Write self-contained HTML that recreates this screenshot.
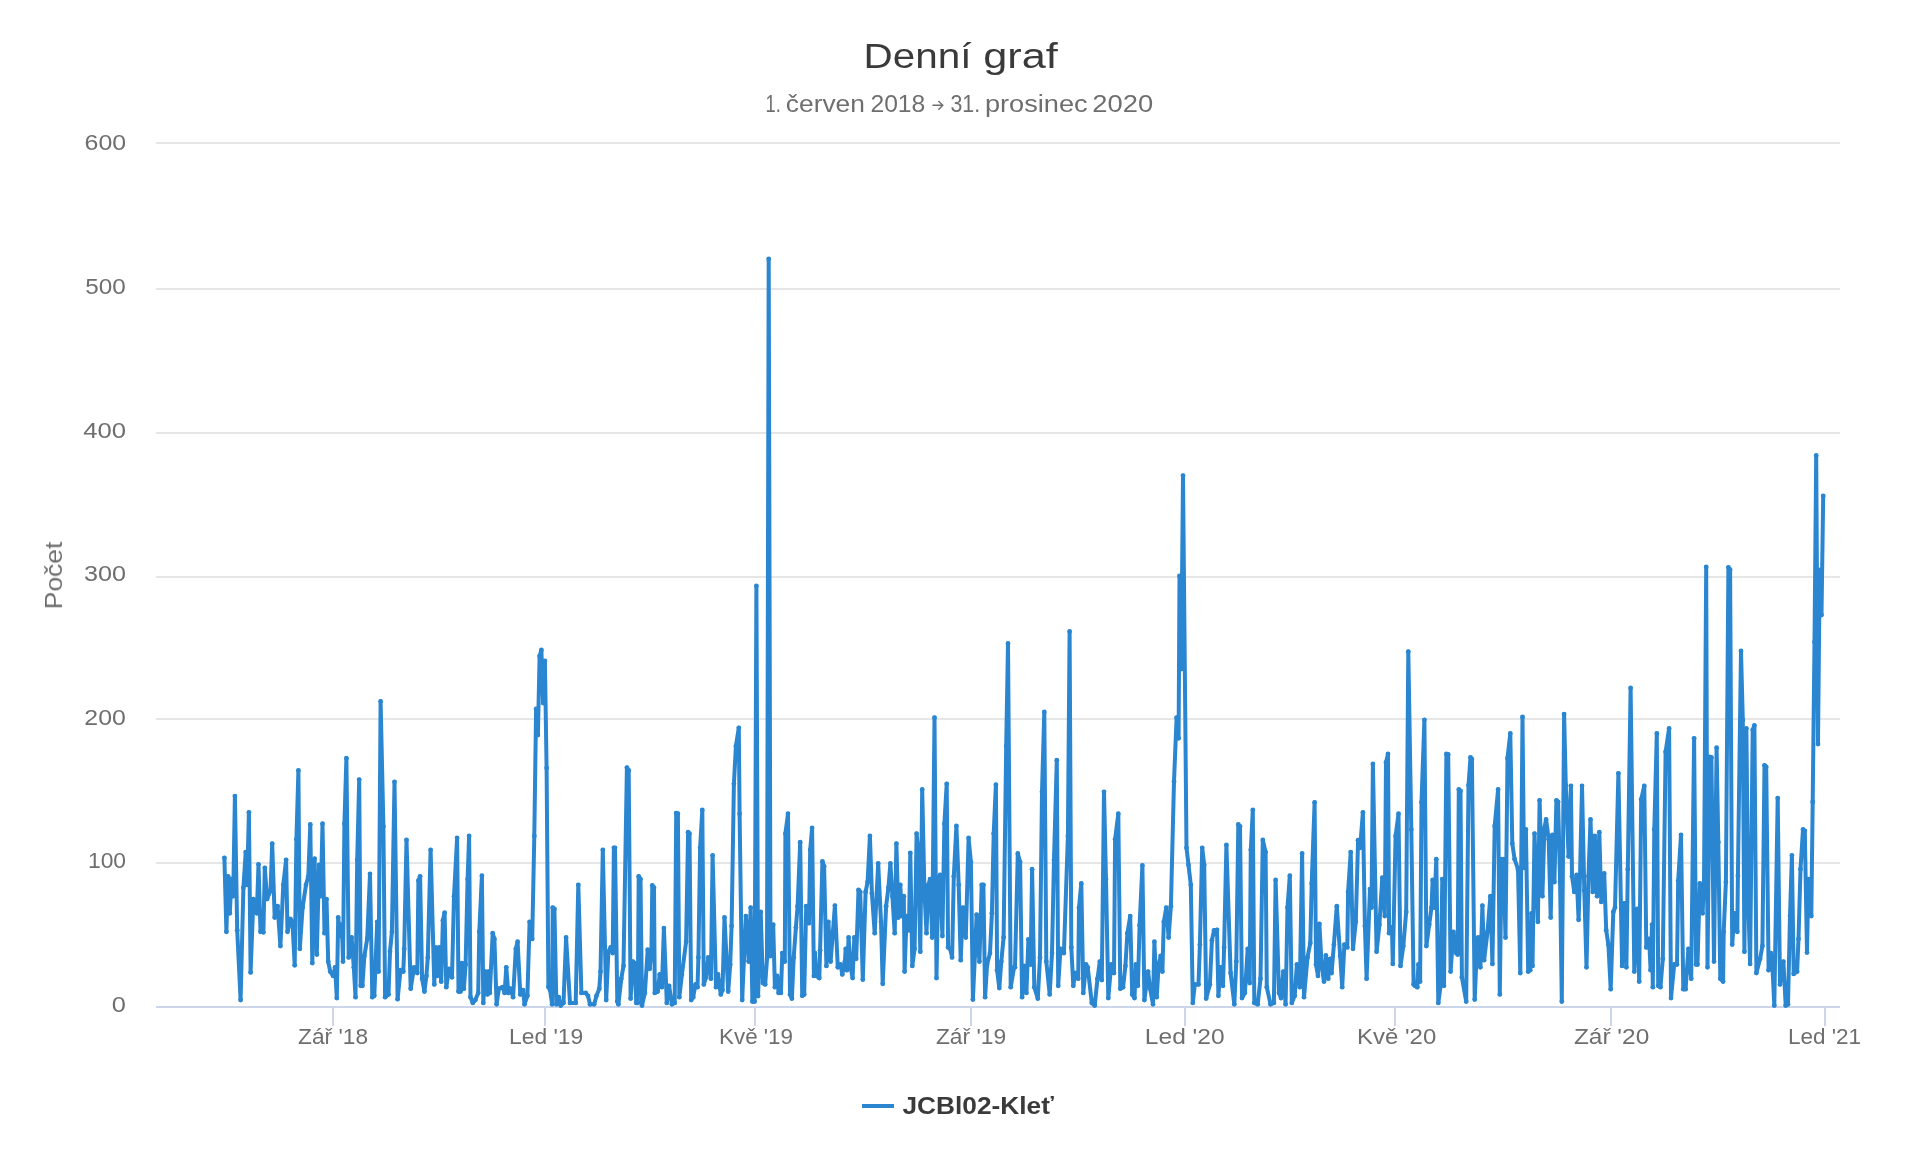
<!DOCTYPE html>
<html><head><meta charset="utf-8"><title>Denní graf</title>
<style>
html,body{margin:0;padding:0;background:#fff;}
body{width:1920px;height:1160px;overflow:hidden;font-family:"Liberation Sans",sans-serif;}
svg{display:block;font-family:"Liberation Sans",sans-serif;}
</style></head><body>
<svg width="1920" height="1160" viewBox="0 0 1920 1160">
<rect width="1920" height="1160" fill="#ffffff"/>
<path d="M156 143H1840" stroke="#e6e6e6" stroke-width="2"/><path d="M156 289H1840" stroke="#e6e6e6" stroke-width="2"/><path d="M156 433H1840" stroke="#e6e6e6" stroke-width="2"/><path d="M156 577H1840" stroke="#e6e6e6" stroke-width="2"/><path d="M156 719H1840" stroke="#e6e6e6" stroke-width="2"/><path d="M156 863H1840" stroke="#e6e6e6" stroke-width="2"/>
<path d="M156 1007H1840" stroke="#ccd6eb" stroke-width="2"/>
<path d="M333 1007V1026" stroke="#ccd6eb" stroke-width="2"/><path d="M545 1007V1026" stroke="#ccd6eb" stroke-width="2"/><path d="M755 1007V1026" stroke="#ccd6eb" stroke-width="2"/><path d="M971 1007V1026" stroke="#ccd6eb" stroke-width="2"/><path d="M1185 1007V1026" stroke="#ccd6eb" stroke-width="2"/><path d="M1395 1007V1026" stroke="#ccd6eb" stroke-width="2"/><path d="M1611 1007V1026" stroke="#ccd6eb" stroke-width="2"/><path d="M1825 1007V1026" stroke="#ccd6eb" stroke-width="2"/>
<g opacity="0.999">
<text x="863.50" y="67.95" font-size="35.5" font-weight="normal" fill="#3a3a3a" textLength="107.89" lengthAdjust="spacingAndGlyphs">Denní</text>
<text x="983.27" y="67.95" font-size="35.5" font-weight="normal" fill="#3a3a3a" textLength="74.59" lengthAdjust="spacingAndGlyphs">graf</text>
<text x="765.51" y="111.9" font-size="23.5" font-weight="normal" fill="#6e6e6e" textLength="15.27" lengthAdjust="spacingAndGlyphs">1.</text>
<text x="785.86" y="111.9" font-size="23.5" font-weight="normal" fill="#6e6e6e" textLength="79.08" lengthAdjust="spacingAndGlyphs">červen</text>
<text x="870.43" y="111.9" font-size="23.5" font-weight="normal" fill="#6e6e6e" textLength="54.86" lengthAdjust="spacingAndGlyphs">2018</text>
<text x="950.44" y="111.9" font-size="23.5" font-weight="normal" fill="#6e6e6e" textLength="29.66" lengthAdjust="spacingAndGlyphs">31.</text>
<text x="984.91" y="111.9" font-size="23.5" font-weight="normal" fill="#6e6e6e" textLength="102.79" lengthAdjust="spacingAndGlyphs">prosinec</text>
<text x="1092.29" y="111.9" font-size="23.5" font-weight="normal" fill="#6e6e6e" textLength="60.80" lengthAdjust="spacingAndGlyphs">2020</text>
<text x="84.58" y="150.3" font-size="22.6" font-weight="normal" fill="#6e6e6e" textLength="41.53" lengthAdjust="spacingAndGlyphs">600</text>
<text x="85.32" y="294.0" font-size="22.6" font-weight="normal" fill="#6e6e6e" textLength="40.50" lengthAdjust="spacingAndGlyphs">500</text>
<text x="83.24" y="437.8" font-size="22.6" font-weight="normal" fill="#6e6e6e" textLength="42.84" lengthAdjust="spacingAndGlyphs">400</text>
<text x="84.04" y="581.4" font-size="22.6" font-weight="normal" fill="#6e6e6e" textLength="42.03" lengthAdjust="spacingAndGlyphs">300</text>
<text x="84.33" y="724.8" font-size="22.6" font-weight="normal" fill="#6e6e6e" textLength="41.53" lengthAdjust="spacingAndGlyphs">200</text>
<text x="87.94" y="868.4" font-size="22.6" font-weight="normal" fill="#6e6e6e" textLength="38.11" lengthAdjust="spacingAndGlyphs">100</text>
<text x="111.84" y="1012.1" font-size="22.6" font-weight="normal" fill="#6e6e6e" textLength="14.14" lengthAdjust="spacingAndGlyphs">0</text>
<text x="298.13" y="1043.65" font-size="22" font-weight="normal" fill="#6e6e6e" textLength="69.90" lengthAdjust="spacingAndGlyphs">Zář '18</text>
<text x="508.98" y="1043.65" font-size="22" font-weight="normal" fill="#6e6e6e" textLength="74.25" lengthAdjust="spacingAndGlyphs">Led '19</text>
<text x="718.99" y="1043.65" font-size="22" font-weight="normal" fill="#6e6e6e" textLength="74.06" lengthAdjust="spacingAndGlyphs">Kvě '19</text>
<text x="935.91" y="1043.65" font-size="22" font-weight="normal" fill="#6e6e6e" textLength="70.27" lengthAdjust="spacingAndGlyphs">Zář '19</text>
<text x="1144.86" y="1043.65" font-size="22" font-weight="normal" fill="#6e6e6e" textLength="79.73" lengthAdjust="spacingAndGlyphs">Led '20</text>
<text x="1357.04" y="1043.65" font-size="22" font-weight="normal" fill="#6e6e6e" textLength="79.24" lengthAdjust="spacingAndGlyphs">Kvě '20</text>
<text x="1573.90" y="1043.65" font-size="22" font-weight="normal" fill="#6e6e6e" textLength="75.35" lengthAdjust="spacingAndGlyphs">Zář '20</text>
<text x="1787.96" y="1043.65" font-size="22" font-weight="normal" fill="#6e6e6e" textLength="73.18" lengthAdjust="spacingAndGlyphs">Led '21</text>
<text x="902.53" y="1113.6" font-size="23.2" font-weight="bold" fill="#3a3a3a" textLength="151.27" lengthAdjust="spacingAndGlyphs">JCBl02-Kleť</text>
<text transform="translate(62,609.30) rotate(-90)" font-size="23.3" fill="#6e6e6e" textLength="67.68" lengthAdjust="spacingAndGlyphs">Počet</text>
</g>
<path d="M932.5 105.3H942.6M938.4 100.9L942.8 105.3L938.4 109.7" fill="none" stroke="#6e6e6e" stroke-width="1.4"/>
<g fill="#2a86d0"><circle cx="224.4" cy="857.8" r="2.4"/><circle cx="226.4" cy="931.8" r="2.4"/><circle cx="228.1" cy="876.3" r="2.4"/><circle cx="229.8" cy="913.3" r="2.4"/><circle cx="231.5" cy="879.1" r="2.4"/><circle cx="233.2" cy="896.2" r="2.4"/><circle cx="234.9" cy="796.1" r="2.4"/><circle cx="237.2" cy="930.3" r="2.4"/><circle cx="240.6" cy="1000.0" r="2.4"/><circle cx="243.4" cy="887.7" r="2.4"/><circle cx="245.7" cy="852.1" r="2.4"/><circle cx="247.1" cy="884.8" r="2.4"/><circle cx="248.9" cy="812.3" r="2.4"/><circle cx="250.6" cy="972.4" r="2.4"/><circle cx="253.4" cy="899.1" r="2.4"/><circle cx="256.8" cy="913.3" r="2.4"/><circle cx="258.5" cy="864.3" r="2.4"/><circle cx="260.5" cy="931.8" r="2.4"/><circle cx="263.4" cy="932.3" r="2.4"/><circle cx="264.8" cy="867.8" r="2.4"/><circle cx="267.1" cy="899.1" r="2.4"/><circle cx="270.5" cy="890.5" r="2.4"/><circle cx="272.2" cy="843.6" r="2.4"/><circle cx="274.7" cy="917.5" r="2.4"/><circle cx="277.6" cy="906.2" r="2.4"/><circle cx="280.4" cy="946.0" r="2.4"/><circle cx="283.3" cy="884.8" r="2.4"/><circle cx="286.1" cy="859.8" r="2.4"/><circle cx="287.5" cy="931.8" r="2.4"/><circle cx="290.4" cy="919.0" r="2.4"/><circle cx="292.4" cy="921.8" r="2.4"/><circle cx="294.7" cy="965.3" r="2.4"/><circle cx="296.4" cy="839.3" r="2.4"/><circle cx="298.4" cy="770.5" r="2.4"/><circle cx="299.8" cy="948.8" r="2.4"/><circle cx="302.6" cy="907.6" r="2.4"/><circle cx="306.0" cy="884.8" r="2.4"/><circle cx="308.3" cy="876.3" r="2.4"/><circle cx="310.3" cy="824.5" r="2.4"/><circle cx="312.3" cy="963.1" r="2.4"/><circle cx="314.6" cy="858.7" r="2.4"/><circle cx="316.8" cy="954.5" r="2.4"/><circle cx="319.1" cy="864.9" r="2.4"/><circle cx="320.8" cy="896.2" r="2.4"/><circle cx="322.5" cy="823.7" r="2.4"/><circle cx="324.5" cy="933.2" r="2.4"/><circle cx="326.5" cy="899.1" r="2.4"/><circle cx="328.2" cy="961.6" r="2.4"/><circle cx="330.2" cy="971.6" r="2.4"/><circle cx="333.1" cy="975.9" r="2.4"/><circle cx="335.1" cy="967.3" r="2.4"/><circle cx="336.8" cy="998.1" r="2.4"/><circle cx="338.2" cy="917.5" r="2.4"/><circle cx="340.2" cy="936.0" r="2.4"/><circle cx="341.9" cy="924.7" r="2.4"/><circle cx="343.0" cy="961.6" r="2.4"/><circle cx="344.4" cy="823.7" r="2.4"/><circle cx="346.4" cy="758.2" r="2.4"/><circle cx="348.7" cy="957.4" r="2.4"/><circle cx="351.6" cy="937.5" r="2.4"/><circle cx="353.8" cy="967.3" r="2.4"/><circle cx="355.5" cy="997.2" r="2.4"/><circle cx="357.2" cy="859.8" r="2.4"/><circle cx="359.2" cy="779.6" r="2.4"/><circle cx="360.7" cy="985.8" r="2.4"/><circle cx="362.4" cy="985.8" r="2.4"/><circle cx="364.4" cy="955.9" r="2.4"/><circle cx="367.2" cy="938.9" r="2.4"/><circle cx="370.0" cy="874.0" r="2.4"/><circle cx="372.3" cy="997.2" r="2.4"/><circle cx="374.3" cy="995.8" r="2.4"/><circle cx="377.2" cy="921.8" r="2.4"/><circle cx="378.6" cy="971.6" r="2.4"/><circle cx="380.6" cy="701.3" r="2.4"/><circle cx="383.4" cy="826.5" r="2.4"/><circle cx="385.1" cy="997.2" r="2.4"/><circle cx="388.5" cy="994.4" r="2.4"/><circle cx="390.0" cy="951.7" r="2.4"/><circle cx="391.9" cy="931.8" r="2.4"/><circle cx="394.5" cy="781.8" r="2.4"/><circle cx="397.6" cy="999.2" r="2.4"/><circle cx="400.5" cy="970.2" r="2.4"/><circle cx="403.3" cy="971.6" r="2.4"/><circle cx="404.2" cy="948.8" r="2.4"/><circle cx="406.5" cy="839.9" r="2.4"/><circle cx="410.7" cy="988.7" r="2.4"/><circle cx="414.1" cy="967.3" r="2.4"/><circle cx="415.0" cy="970.2" r="2.4"/><circle cx="417.3" cy="973.0" r="2.4"/><circle cx="418.4" cy="880.6" r="2.4"/><circle cx="420.1" cy="876.3" r="2.4"/><circle cx="422.1" cy="978.7" r="2.4"/><circle cx="424.4" cy="991.5" r="2.4"/><circle cx="426.4" cy="975.9" r="2.4"/><circle cx="427.8" cy="957.4" r="2.4"/><circle cx="430.6" cy="849.8" r="2.4"/><circle cx="434.3" cy="984.4" r="2.4"/><circle cx="435.5" cy="947.4" r="2.4"/><circle cx="437.2" cy="975.9" r="2.4"/><circle cx="439.2" cy="947.4" r="2.4"/><circle cx="441.2" cy="981.6" r="2.4"/><circle cx="442.9" cy="920.4" r="2.4"/><circle cx="444.6" cy="912.7" r="2.4"/><circle cx="446.3" cy="987.2" r="2.4"/><circle cx="449.1" cy="968.8" r="2.4"/><circle cx="452.0" cy="977.3" r="2.4"/><circle cx="454.0" cy="896.2" r="2.4"/><circle cx="457.1" cy="837.9" r="2.4"/><circle cx="458.5" cy="991.5" r="2.4"/><circle cx="460.5" cy="991.5" r="2.4"/><circle cx="461.9" cy="963.1" r="2.4"/><circle cx="463.9" cy="988.7" r="2.4"/><circle cx="465.6" cy="964.5" r="2.4"/><circle cx="467.6" cy="879.1" r="2.4"/><circle cx="469.1" cy="835.9" r="2.4"/><circle cx="470.5" cy="997.2" r="2.4"/><circle cx="472.8" cy="1002.9" r="2.4"/><circle cx="475.3" cy="1000.0" r="2.4"/><circle cx="478.2" cy="992.9" r="2.4"/><circle cx="479.3" cy="931.8" r="2.4"/><circle cx="481.9" cy="875.7" r="2.4"/><circle cx="483.3" cy="1002.9" r="2.4"/><circle cx="485.3" cy="971.6" r="2.4"/><circle cx="487.5" cy="994.4" r="2.4"/><circle cx="488.4" cy="971.6" r="2.4"/><circle cx="489.8" cy="992.9" r="2.4"/><circle cx="492.7" cy="933.2" r="2.4"/><circle cx="494.4" cy="938.9" r="2.4"/><circle cx="496.6" cy="1004.3" r="2.4"/><circle cx="498.9" cy="988.7" r="2.4"/><circle cx="502.6" cy="987.2" r="2.4"/><circle cx="504.6" cy="992.9" r="2.4"/><circle cx="506.3" cy="967.3" r="2.4"/><circle cx="508.3" cy="992.9" r="2.4"/><circle cx="510.3" cy="988.7" r="2.4"/><circle cx="513.1" cy="997.2" r="2.4"/><circle cx="515.8" cy="948.8" r="2.4"/><circle cx="517.6" cy="941.7" r="2.4"/><circle cx="520.3" cy="994.4" r="2.4"/><circle cx="523.1" cy="990.1" r="2.4"/><circle cx="524.5" cy="1004.3" r="2.4"/><circle cx="527.4" cy="995.8" r="2.4"/><circle cx="529.6" cy="921.8" r="2.4"/><circle cx="532.2" cy="938.9" r="2.4"/><circle cx="534.3" cy="836" r="2.4"/><circle cx="536.1" cy="709" r="2.4"/><circle cx="537.9" cy="735" r="2.4"/><circle cx="539.6" cy="656" r="2.4"/><circle cx="541.4" cy="650" r="2.4"/><circle cx="543.1" cy="703" r="2.4"/><circle cx="544.9" cy="661" r="2.4"/><circle cx="546.6" cy="768" r="2.4"/><circle cx="548.4" cy="987" r="2.4"/><circle cx="550.1" cy="990.1" r="2.4"/><circle cx="552.1" cy="1004.3" r="2.4"/><circle cx="552.7" cy="907.6" r="2.4"/><circle cx="554.4" cy="909.0" r="2.4"/><circle cx="556.4" cy="1004.3" r="2.4"/><circle cx="558.7" cy="997.2" r="2.4"/><circle cx="560.7" cy="1005.5" r="2.4"/><circle cx="563.5" cy="1002.9" r="2.4"/><circle cx="566.1" cy="937.5" r="2.4"/><circle cx="570.0" cy="1002.9" r="2.4"/><circle cx="575.7" cy="1002.9" r="2.4"/><circle cx="578.3" cy="884.8" r="2.4"/><circle cx="581.4" cy="992.9" r="2.4"/><circle cx="585.7" cy="992.9" r="2.4"/><circle cx="588.0" cy="995.8" r="2.4"/><circle cx="590.0" cy="1004.3" r="2.4"/><circle cx="594.2" cy="1004.3" r="2.4"/><circle cx="596.5" cy="995.8" r="2.4"/><circle cx="599.3" cy="988.7" r="2.4"/><circle cx="600.5" cy="971.6" r="2.4"/><circle cx="602.8" cy="849.8" r="2.4"/><circle cx="606.2" cy="1000.0" r="2.4"/><circle cx="608.4" cy="951.7" r="2.4"/><circle cx="610.7" cy="947.4" r="2.4"/><circle cx="612.7" cy="953.1" r="2.4"/><circle cx="613.9" cy="847.8" r="2.4"/><circle cx="615.0" cy="847.8" r="2.4"/><circle cx="617.3" cy="1001.5" r="2.4"/><circle cx="618.4" cy="1004.3" r="2.4"/><circle cx="621.3" cy="978.7" r="2.4"/><circle cx="623.5" cy="965.9" r="2.4"/><circle cx="626.9" cy="767.6" r="2.4"/><circle cx="628.7" cy="770.5" r="2.4"/><circle cx="630.6" cy="998.6" r="2.4"/><circle cx="632.9" cy="961.6" r="2.4"/><circle cx="634.6" cy="963.1" r="2.4"/><circle cx="636.3" cy="1002.9" r="2.4"/><circle cx="637.8" cy="1002.9" r="2.4"/><circle cx="638.7" cy="876.3" r="2.4"/><circle cx="640.5" cy="879.1" r="2.4"/><circle cx="642.0" cy="1005.5" r="2.4"/><circle cx="644.9" cy="992.9" r="2.4"/><circle cx="647.7" cy="949.7" r="2.4"/><circle cx="649.7" cy="968.8" r="2.4"/><circle cx="651.4" cy="951.7" r="2.4"/><circle cx="652.3" cy="885.4" r="2.4"/><circle cx="654.0" cy="887.7" r="2.4"/><circle cx="654.8" cy="992.9" r="2.4"/><circle cx="657.7" cy="991.5" r="2.4"/><circle cx="659.7" cy="974.4" r="2.4"/><circle cx="661.9" cy="987.2" r="2.4"/><circle cx="663.9" cy="928.1" r="2.4"/><circle cx="666.8" cy="1002.9" r="2.4"/><circle cx="669.1" cy="985.8" r="2.4"/><circle cx="671.9" cy="1004.3" r="2.4"/><circle cx="674.7" cy="1002.9" r="2.4"/><circle cx="676.2" cy="813.1" r="2.4"/><circle cx="677.9" cy="813.7" r="2.4"/><circle cx="679.3" cy="997.2" r="2.4"/><circle cx="681.9" cy="974.4" r="2.4"/><circle cx="686.1" cy="941.7" r="2.4"/><circle cx="688.1" cy="832.2" r="2.4"/><circle cx="689.5" cy="833.6" r="2.4"/><circle cx="691.2" cy="1000.0" r="2.4"/><circle cx="693.2" cy="997.2" r="2.4"/><circle cx="695.5" cy="984.4" r="2.4"/><circle cx="697.5" cy="987.2" r="2.4"/><circle cx="698.4" cy="957.4" r="2.4"/><circle cx="700.1" cy="847.8" r="2.4"/><circle cx="702.3" cy="810.0" r="2.4"/><circle cx="703.8" cy="984.4" r="2.4"/><circle cx="706.0" cy="977.3" r="2.4"/><circle cx="708.3" cy="957.4" r="2.4"/><circle cx="710.9" cy="978.7" r="2.4"/><circle cx="712.6" cy="855.5" r="2.4"/><circle cx="716.0" cy="987.2" r="2.4"/><circle cx="718.0" cy="974.4" r="2.4"/><circle cx="720.8" cy="994.4" r="2.4"/><circle cx="722.5" cy="990.1" r="2.4"/><circle cx="724.5" cy="917.5" r="2.4"/><circle cx="728.2" cy="991.5" r="2.4"/><circle cx="730.2" cy="964.5" r="2.4"/><circle cx="731.6" cy="926.1" r="2.4"/><circle cx="733.9" cy="783.8" r="2.4"/><circle cx="735.9" cy="746.0" r="2.4"/><circle cx="738.8" cy="727.8" r="2.4"/><circle cx="739.6" cy="813.7" r="2.4"/><circle cx="742.2" cy="1000.0" r="2.4"/><circle cx="743.9" cy="960.2" r="2.4"/><circle cx="745.9" cy="916.1" r="2.4"/><circle cx="748.7" cy="961.6" r="2.4"/><circle cx="750.7" cy="907.6" r="2.4"/><circle cx="752.4" cy="1001.5" r="2.4"/><circle cx="754.6" cy="1001.5" r="2.4"/><circle cx="756.4" cy="586" r="2.4"/><circle cx="758.1" cy="996" r="2.4"/><circle cx="760.7" cy="911.9" r="2.4"/><circle cx="762.9" cy="983.0" r="2.4"/><circle cx="765.2" cy="984.4" r="2.4"/><circle cx="767.0" cy="958.8" r="2.4"/><circle cx="768.7" cy="259" r="2.4"/><circle cx="770.5" cy="956" r="2.4"/><circle cx="773.2" cy="924.7" r="2.4"/><circle cx="774.9" cy="987.2" r="2.4"/><circle cx="777.2" cy="975.9" r="2.4"/><circle cx="778.6" cy="992.9" r="2.4"/><circle cx="780.9" cy="992.9" r="2.4"/><circle cx="782.3" cy="953.1" r="2.4"/><circle cx="784.8" cy="961.6" r="2.4"/><circle cx="785.4" cy="833.6" r="2.4"/><circle cx="788.0" cy="813.7" r="2.4"/><circle cx="790.0" cy="994.4" r="2.4"/><circle cx="791.9" cy="998.6" r="2.4"/><circle cx="793.7" cy="957.4" r="2.4"/><circle cx="795.9" cy="927.5" r="2.4"/><circle cx="797.6" cy="906.2" r="2.4"/><circle cx="800.2" cy="842.2" r="2.4"/><circle cx="802.2" cy="995.8" r="2.4"/><circle cx="804.2" cy="994.4" r="2.4"/><circle cx="806.2" cy="906.2" r="2.4"/><circle cx="809.0" cy="923.2" r="2.4"/><circle cx="810.2" cy="849.8" r="2.4"/><circle cx="812.1" cy="827.9" r="2.4"/><circle cx="813.9" cy="975.9" r="2.4"/><circle cx="815.0" cy="953.1" r="2.4"/><circle cx="816.4" cy="975.9" r="2.4"/><circle cx="819.3" cy="978.1" r="2.4"/><circle cx="820.1" cy="950.3" r="2.4"/><circle cx="822.4" cy="861.5" r="2.4"/><circle cx="824.1" cy="866.3" r="2.4"/><circle cx="826.4" cy="965.9" r="2.4"/><circle cx="828.4" cy="921.8" r="2.4"/><circle cx="830.6" cy="961.6" r="2.4"/><circle cx="832.6" cy="936.0" r="2.4"/><circle cx="834.9" cy="905.6" r="2.4"/><circle cx="837.8" cy="967.3" r="2.4"/><circle cx="840.6" cy="964.5" r="2.4"/><circle cx="842.3" cy="974.4" r="2.4"/><circle cx="844.9" cy="961.6" r="2.4"/><circle cx="845.7" cy="948.8" r="2.4"/><circle cx="846.9" cy="970.2" r="2.4"/><circle cx="848.6" cy="937.5" r="2.4"/><circle cx="850.6" cy="967.3" r="2.4"/><circle cx="852.6" cy="978.1" r="2.4"/><circle cx="854.3" cy="937.5" r="2.4"/><circle cx="856.2" cy="958.8" r="2.4"/><circle cx="858.5" cy="889.9" r="2.4"/><circle cx="860.2" cy="891.9" r="2.4"/><circle cx="862.8" cy="979.6" r="2.4"/><circle cx="865.6" cy="891.9" r="2.4"/><circle cx="867.6" cy="882.0" r="2.4"/><circle cx="869.9" cy="835.9" r="2.4"/><circle cx="871.9" cy="893.4" r="2.4"/><circle cx="874.7" cy="933.2" r="2.4"/><circle cx="878.2" cy="863.5" r="2.4"/><circle cx="881.0" cy="921.8" r="2.4"/><circle cx="882.7" cy="983.8" r="2.4"/><circle cx="886.1" cy="906.2" r="2.4"/><circle cx="888.4" cy="887.7" r="2.4"/><circle cx="890.4" cy="863.5" r="2.4"/><circle cx="892.4" cy="896.2" r="2.4"/><circle cx="894.7" cy="933.2" r="2.4"/><circle cx="896.4" cy="843.6" r="2.4"/><circle cx="898.4" cy="917.5" r="2.4"/><circle cx="900.3" cy="884.8" r="2.4"/><circle cx="901.8" cy="916.1" r="2.4"/><circle cx="903.8" cy="896.2" r="2.4"/><circle cx="904.6" cy="971.6" r="2.4"/><circle cx="906.6" cy="916.1" r="2.4"/><circle cx="908.9" cy="930.3" r="2.4"/><circle cx="910.3" cy="853.0" r="2.4"/><circle cx="912.3" cy="965.9" r="2.4"/><circle cx="914.6" cy="948.8" r="2.4"/><circle cx="916.6" cy="833.6" r="2.4"/><circle cx="918.3" cy="850.7" r="2.4"/><circle cx="920.3" cy="951.7" r="2.4"/><circle cx="922.2" cy="789.5" r="2.4"/><circle cx="924.5" cy="893.4" r="2.4"/><circle cx="926.5" cy="933.2" r="2.4"/><circle cx="928.3" cy="884.8" r="2.4"/><circle cx="930.1" cy="879.1" r="2.4"/><circle cx="932.2" cy="937.5" r="2.4"/><circle cx="934.5" cy="717.6" r="2.4"/><circle cx="936.5" cy="978.1" r="2.4"/><circle cx="938.3" cy="879.1" r="2.4"/><circle cx="940.1" cy="874.9" r="2.4"/><circle cx="942.4" cy="936.0" r="2.4"/><circle cx="944.4" cy="823.7" r="2.4"/><circle cx="946.7" cy="783.8" r="2.4"/><circle cx="948.1" cy="947.4" r="2.4"/><circle cx="950.1" cy="948.8" r="2.4"/><circle cx="952.1" cy="957.4" r="2.4"/><circle cx="953.8" cy="876.3" r="2.4"/><circle cx="956.4" cy="825.9" r="2.4"/><circle cx="958.7" cy="884.8" r="2.4"/><circle cx="960.7" cy="960.2" r="2.4"/><circle cx="962.9" cy="907.6" r="2.4"/><circle cx="965.8" cy="937.5" r="2.4"/><circle cx="968.6" cy="837.9" r="2.4"/><circle cx="970.9" cy="862.1" r="2.4"/><circle cx="972.9" cy="999.5" r="2.4"/><circle cx="974.9" cy="955.9" r="2.4"/><circle cx="976.6" cy="914.7" r="2.4"/><circle cx="979.4" cy="961.6" r="2.4"/><circle cx="981.7" cy="884.8" r="2.4"/><circle cx="983.4" cy="884.8" r="2.4"/><circle cx="985.1" cy="997.2" r="2.4"/><circle cx="987.1" cy="964.5" r="2.4"/><circle cx="990.0" cy="953.1" r="2.4"/><circle cx="991.9" cy="913.3" r="2.4"/><circle cx="993.7" cy="833.6" r="2.4"/><circle cx="995.9" cy="784.7" r="2.4"/><circle cx="997.1" cy="970.2" r="2.4"/><circle cx="999.3" cy="988.1" r="2.4"/><circle cx="1001.3" cy="961.6" r="2.4"/><circle cx="1003.6" cy="937.5" r="2.4"/><circle cx="1006.2" cy="746" r="2.4"/><circle cx="1008.0" cy="643.4" r="2.4"/><circle cx="1010.7" cy="987.2" r="2.4"/><circle cx="1014.1" cy="967.3" r="2.4"/><circle cx="1015.0" cy="967.3" r="2.4"/><circle cx="1017.8" cy="853.5" r="2.4"/><circle cx="1020.1" cy="862.1" r="2.4"/><circle cx="1022.1" cy="997.2" r="2.4"/><circle cx="1024.1" cy="965.9" r="2.4"/><circle cx="1026.4" cy="992.9" r="2.4"/><circle cx="1028.4" cy="939.4" r="2.4"/><circle cx="1030.6" cy="964.5" r="2.4"/><circle cx="1032.1" cy="869.2" r="2.4"/><circle cx="1034.3" cy="987.2" r="2.4"/><circle cx="1037.8" cy="998.6" r="2.4"/><circle cx="1040.0" cy="957.4" r="2.4"/><circle cx="1042.0" cy="791.8" r="2.4"/><circle cx="1044.3" cy="711.9" r="2.4"/><circle cx="1046.3" cy="961.6" r="2.4"/><circle cx="1049.7" cy="994.4" r="2.4"/><circle cx="1052.0" cy="953.1" r="2.4"/><circle cx="1054.0" cy="859.8" r="2.4"/><circle cx="1056.8" cy="760.2" r="2.4"/><circle cx="1058.2" cy="985.8" r="2.4"/><circle cx="1060.5" cy="948.8" r="2.4"/><circle cx="1063.9" cy="953.1" r="2.4"/><circle cx="1067.9" cy="835.9" r="2.4"/><circle cx="1069.6" cy="631.5" r="2.4"/><circle cx="1071.3" cy="947.4" r="2.4"/><circle cx="1073.3" cy="985.8" r="2.4"/><circle cx="1075.3" cy="973.0" r="2.4"/><circle cx="1078.2" cy="978.7" r="2.4"/><circle cx="1079.0" cy="907.6" r="2.4"/><circle cx="1081.3" cy="883.4" r="2.4"/><circle cx="1083.3" cy="992.9" r="2.4"/><circle cx="1086.0" cy="964.5" r="2.4"/><circle cx="1087.7" cy="967.3" r="2.4"/><circle cx="1091.8" cy="1002.9" r="2.4"/><circle cx="1094.7" cy="1005.5" r="2.4"/><circle cx="1097.5" cy="978.7" r="2.4"/><circle cx="1099.8" cy="961.6" r="2.4"/><circle cx="1101.8" cy="980.1" r="2.4"/><circle cx="1104.0" cy="791.8" r="2.4"/><circle cx="1106.0" cy="879.1" r="2.4"/><circle cx="1108.3" cy="998.1" r="2.4"/><circle cx="1111.2" cy="964.5" r="2.4"/><circle cx="1114.0" cy="973.0" r="2.4"/><circle cx="1115.1" cy="839.3" r="2.4"/><circle cx="1118.3" cy="813.7" r="2.4"/><circle cx="1120.3" cy="988.7" r="2.4"/><circle cx="1123.1" cy="987.2" r="2.4"/><circle cx="1125.4" cy="965.9" r="2.4"/><circle cx="1127.4" cy="933.2" r="2.4"/><circle cx="1130.2" cy="916.1" r="2.4"/><circle cx="1132.2" cy="994.4" r="2.4"/><circle cx="1134.5" cy="998.1" r="2.4"/><circle cx="1135.9" cy="964.5" r="2.4"/><circle cx="1137.9" cy="985.8" r="2.4"/><circle cx="1139.6" cy="925.2" r="2.4"/><circle cx="1142.4" cy="865.5" r="2.4"/><circle cx="1144.4" cy="1000.0" r="2.4"/><circle cx="1148.1" cy="971.6" r="2.4"/><circle cx="1150.1" cy="988.7" r="2.4"/><circle cx="1153.0" cy="1004.3" r="2.4"/><circle cx="1154.4" cy="941.7" r="2.4"/><circle cx="1156.7" cy="997.2" r="2.4"/><circle cx="1158.7" cy="964.5" r="2.4"/><circle cx="1160.7" cy="955.9" r="2.4"/><circle cx="1162.4" cy="971.6" r="2.4"/><circle cx="1163.8" cy="921.8" r="2.4"/><circle cx="1166.3" cy="907.6" r="2.4"/><circle cx="1168.6" cy="937.5" r="2.4"/><circle cx="1170.9" cy="906.2" r="2.4"/><circle cx="1174.0" cy="781.6" r="2.4"/><circle cx="1176.6" cy="717.6" r="2.4"/><circle cx="1178.6" cy="738.3" r="2.4"/><circle cx="1179.5" cy="576" r="2.4"/><circle cx="1181.2" cy="669" r="2.4"/><circle cx="1183.0" cy="475.6" r="2.4"/><circle cx="1186.5" cy="847.8" r="2.4"/><circle cx="1188.5" cy="864.9" r="2.4"/><circle cx="1190.8" cy="884.8" r="2.4"/><circle cx="1192.8" cy="1002.9" r="2.4"/><circle cx="1194.8" cy="984.4" r="2.4"/><circle cx="1198.5" cy="984.4" r="2.4"/><circle cx="1199.9" cy="944.6" r="2.4"/><circle cx="1202.2" cy="847.8" r="2.4"/><circle cx="1204.2" cy="864.9" r="2.4"/><circle cx="1206.2" cy="998.6" r="2.4"/><circle cx="1209.9" cy="984.4" r="2.4"/><circle cx="1211.9" cy="940.3" r="2.4"/><circle cx="1214.1" cy="930.3" r="2.4"/><circle cx="1215.0" cy="930.3" r="2.4"/><circle cx="1217.0" cy="929.8" r="2.4"/><circle cx="1218.4" cy="995.8" r="2.4"/><circle cx="1220.7" cy="967.3" r="2.4"/><circle cx="1223.0" cy="985.8" r="2.4"/><circle cx="1224.1" cy="947.4" r="2.4"/><circle cx="1226.4" cy="845.0" r="2.4"/><circle cx="1230.6" cy="973.0" r="2.4"/><circle cx="1234.3" cy="1004.3" r="2.4"/><circle cx="1236.3" cy="961.6" r="2.4"/><circle cx="1238.3" cy="824.5" r="2.4"/><circle cx="1240.0" cy="826.5" r="2.4"/><circle cx="1242.0" cy="998.1" r="2.4"/><circle cx="1244.9" cy="992.9" r="2.4"/><circle cx="1247.7" cy="948.8" r="2.4"/><circle cx="1249.7" cy="983.0" r="2.4"/><circle cx="1250.8" cy="849.8" r="2.4"/><circle cx="1252.8" cy="810.0" r="2.4"/><circle cx="1254.3" cy="1002.9" r="2.4"/><circle cx="1257.7" cy="1004.3" r="2.4"/><circle cx="1260.5" cy="978.7" r="2.4"/><circle cx="1262.8" cy="839.9" r="2.4"/><circle cx="1265.6" cy="852.1" r="2.4"/><circle cx="1266.8" cy="987.2" r="2.4"/><circle cx="1270.5" cy="1004.3" r="2.4"/><circle cx="1273.9" cy="1002.9" r="2.4"/><circle cx="1275.6" cy="880.0" r="2.4"/><circle cx="1279.0" cy="992.9" r="2.4"/><circle cx="1281.0" cy="998.1" r="2.4"/><circle cx="1283.3" cy="971.6" r="2.4"/><circle cx="1285.6" cy="1004.3" r="2.4"/><circle cx="1287.5" cy="907.6" r="2.4"/><circle cx="1289.8" cy="875.7" r="2.4"/><circle cx="1291.8" cy="1002.9" r="2.4"/><circle cx="1294.7" cy="995.8" r="2.4"/><circle cx="1296.9" cy="964.5" r="2.4"/><circle cx="1299.8" cy="987.2" r="2.4"/><circle cx="1302.1" cy="853.5" r="2.4"/><circle cx="1304.0" cy="997.2" r="2.4"/><circle cx="1307.5" cy="957.4" r="2.4"/><circle cx="1310.3" cy="943.1" r="2.4"/><circle cx="1311.7" cy="883.4" r="2.4"/><circle cx="1314.6" cy="802.3" r="2.4"/><circle cx="1316.0" cy="964.5" r="2.4"/><circle cx="1318.0" cy="975.9" r="2.4"/><circle cx="1319.4" cy="923.8" r="2.4"/><circle cx="1321.7" cy="965.9" r="2.4"/><circle cx="1324.0" cy="981.6" r="2.4"/><circle cx="1325.9" cy="955.4" r="2.4"/><circle cx="1328.2" cy="978.7" r="2.4"/><circle cx="1330.2" cy="958.8" r="2.4"/><circle cx="1331.6" cy="973.0" r="2.4"/><circle cx="1333.9" cy="944.6" r="2.4"/><circle cx="1336.8" cy="906.2" r="2.4"/><circle cx="1340.2" cy="955.9" r="2.4"/><circle cx="1342.2" cy="987.2" r="2.4"/><circle cx="1344.4" cy="944.6" r="2.4"/><circle cx="1347.3" cy="947.4" r="2.4"/><circle cx="1348.1" cy="891.9" r="2.4"/><circle cx="1350.7" cy="852.1" r="2.4"/><circle cx="1353.0" cy="948.8" r="2.4"/><circle cx="1355.8" cy="921.8" r="2.4"/><circle cx="1358.1" cy="840.2" r="2.4"/><circle cx="1360.1" cy="847.8" r="2.4"/><circle cx="1362.9" cy="812.3" r="2.4"/><circle cx="1364.9" cy="926.1" r="2.4"/><circle cx="1366.6" cy="978.7" r="2.4"/><circle cx="1370.0" cy="889.1" r="2.4"/><circle cx="1371.5" cy="907.6" r="2.4"/><circle cx="1372.9" cy="763.9" r="2.4"/><circle cx="1376.6" cy="951.7" r="2.4"/><circle cx="1379.4" cy="924.7" r="2.4"/><circle cx="1382.3" cy="877.7" r="2.4"/><circle cx="1384.8" cy="916.1" r="2.4"/><circle cx="1386.0" cy="762.5" r="2.4"/><circle cx="1388.0" cy="754.0" r="2.4"/><circle cx="1389.1" cy="933.2" r="2.4"/><circle cx="1391.9" cy="927.5" r="2.4"/><circle cx="1392.8" cy="963.9" r="2.4"/><circle cx="1395.6" cy="835.9" r="2.4"/><circle cx="1398.5" cy="813.7" r="2.4"/><circle cx="1400.5" cy="965.9" r="2.4"/><circle cx="1403.3" cy="946.0" r="2.4"/><circle cx="1406.2" cy="911.9" r="2.4"/><circle cx="1408.3" cy="651.6" r="2.4"/><circle cx="1411.3" cy="829.4" r="2.4"/><circle cx="1413.6" cy="984.4" r="2.4"/><circle cx="1415.0" cy="985.8" r="2.4"/><circle cx="1417.3" cy="987.2" r="2.4"/><circle cx="1418.4" cy="964.5" r="2.4"/><circle cx="1420.1" cy="981.6" r="2.4"/><circle cx="1421.5" cy="802.3" r="2.4"/><circle cx="1424.4" cy="719.8" r="2.4"/><circle cx="1426.4" cy="946.0" r="2.4"/><circle cx="1429.2" cy="924.7" r="2.4"/><circle cx="1431.5" cy="907.6" r="2.4"/><circle cx="1432.6" cy="880.0" r="2.4"/><circle cx="1434.3" cy="907.6" r="2.4"/><circle cx="1436.3" cy="859.2" r="2.4"/><circle cx="1438.3" cy="1002.9" r="2.4"/><circle cx="1440.6" cy="985.8" r="2.4"/><circle cx="1442.3" cy="879.1" r="2.4"/><circle cx="1444.0" cy="985.8" r="2.4"/><circle cx="1446.4" cy="754.0" r="2.4"/><circle cx="1448.2" cy="754.5" r="2.4"/><circle cx="1450.6" cy="971.6" r="2.4"/><circle cx="1453.4" cy="931.8" r="2.4"/><circle cx="1456.2" cy="953.1" r="2.4"/><circle cx="1457.7" cy="954.5" r="2.4"/><circle cx="1458.8" cy="789.5" r="2.4"/><circle cx="1460.5" cy="790.9" r="2.4"/><circle cx="1461.9" cy="977.3" r="2.4"/><circle cx="1466.2" cy="1001.5" r="2.4"/><circle cx="1468.5" cy="785.3" r="2.4"/><circle cx="1470.5" cy="757.4" r="2.4"/><circle cx="1471.9" cy="759.1" r="2.4"/><circle cx="1474.7" cy="999.5" r="2.4"/><circle cx="1476.2" cy="964.5" r="2.4"/><circle cx="1478.2" cy="937.5" r="2.4"/><circle cx="1480.4" cy="967.3" r="2.4"/><circle cx="1482.4" cy="905.6" r="2.4"/><circle cx="1484.1" cy="960.2" r="2.4"/><circle cx="1487.5" cy="931.8" r="2.4"/><circle cx="1490.4" cy="896.2" r="2.4"/><circle cx="1492.4" cy="963.9" r="2.4"/><circle cx="1494.7" cy="825.9" r="2.4"/><circle cx="1498.1" cy="789.5" r="2.4"/><circle cx="1499.8" cy="994.4" r="2.4"/><circle cx="1501.6" cy="859.2" r="2.4"/><circle cx="1503.4" cy="859.2" r="2.4"/><circle cx="1505.5" cy="937.5" r="2.4"/><circle cx="1507.5" cy="758.2" r="2.4"/><circle cx="1510.3" cy="733.5" r="2.4"/><circle cx="1512.3" cy="843.6" r="2.4"/><circle cx="1514.6" cy="859.2" r="2.4"/><circle cx="1518.0" cy="869.2" r="2.4"/><circle cx="1520.3" cy="973.0" r="2.4"/><circle cx="1522.5" cy="717.0" r="2.4"/><circle cx="1524.0" cy="867.8" r="2.4"/><circle cx="1525.9" cy="829.4" r="2.4"/><circle cx="1528.2" cy="971.6" r="2.4"/><circle cx="1530.2" cy="970.2" r="2.4"/><circle cx="1531.6" cy="913.3" r="2.4"/><circle cx="1532.5" cy="965.9" r="2.4"/><circle cx="1534.5" cy="833.6" r="2.4"/><circle cx="1537.9" cy="921.8" r="2.4"/><circle cx="1539.6" cy="800.3" r="2.4"/><circle cx="1542.4" cy="896.2" r="2.4"/><circle cx="1544.4" cy="827.9" r="2.4"/><circle cx="1546.1" cy="819.4" r="2.4"/><circle cx="1548.7" cy="839.3" r="2.4"/><circle cx="1550.7" cy="917.5" r="2.4"/><circle cx="1552.4" cy="835.0" r="2.4"/><circle cx="1554.4" cy="882.0" r="2.4"/><circle cx="1556.4" cy="800.3" r="2.4"/><circle cx="1558.1" cy="801.8" r="2.4"/><circle cx="1560.1" cy="882.0" r="2.4"/><circle cx="1561.8" cy="1001.5" r="2.4"/><circle cx="1564.1" cy="714.1" r="2.4"/><circle cx="1565.8" cy="785.3" r="2.4"/><circle cx="1568.6" cy="856.4" r="2.4"/><circle cx="1570.9" cy="785.8" r="2.4"/><circle cx="1572.0" cy="876.3" r="2.4"/><circle cx="1574.3" cy="891.9" r="2.4"/><circle cx="1576.6" cy="874.9" r="2.4"/><circle cx="1578.6" cy="919.8" r="2.4"/><circle cx="1580.0" cy="876.3" r="2.4"/><circle cx="1582.0" cy="785.8" r="2.4"/><circle cx="1584.3" cy="890.5" r="2.4"/><circle cx="1586.5" cy="967.3" r="2.4"/><circle cx="1588.5" cy="876.3" r="2.4"/><circle cx="1590.5" cy="819.4" r="2.4"/><circle cx="1592.8" cy="891.9" r="2.4"/><circle cx="1594.8" cy="835.9" r="2.4"/><circle cx="1597.1" cy="896.2" r="2.4"/><circle cx="1599.3" cy="832.2" r="2.4"/><circle cx="1601.3" cy="901.9" r="2.4"/><circle cx="1604.2" cy="873.4" r="2.4"/><circle cx="1606.2" cy="930.3" r="2.4"/><circle cx="1608.4" cy="944.6" r="2.4"/><circle cx="1610.7" cy="989.2" r="2.4"/><circle cx="1613.3" cy="911.9" r="2.4"/><circle cx="1615.0" cy="907.6" r="2.4"/><circle cx="1618.4" cy="773.3" r="2.4"/><circle cx="1622.1" cy="965.9" r="2.4"/><circle cx="1624.1" cy="903.3" r="2.4"/><circle cx="1626.4" cy="967.3" r="2.4"/><circle cx="1627.8" cy="869.2" r="2.4"/><circle cx="1630.6" cy="688.0" r="2.4"/><circle cx="1634.3" cy="971.6" r="2.4"/><circle cx="1637.2" cy="909.0" r="2.4"/><circle cx="1639.2" cy="981.6" r="2.4"/><circle cx="1641.2" cy="799.5" r="2.4"/><circle cx="1644.3" cy="785.8" r="2.4"/><circle cx="1646.3" cy="947.4" r="2.4"/><circle cx="1649.1" cy="938.9" r="2.4"/><circle cx="1650.6" cy="970.2" r="2.4"/><circle cx="1652.0" cy="924.7" r="2.4"/><circle cx="1652.8" cy="987.2" r="2.4"/><circle cx="1654.3" cy="829.4" r="2.4"/><circle cx="1656.8" cy="733.5" r="2.4"/><circle cx="1658.2" cy="985.8" r="2.4"/><circle cx="1660.5" cy="987.2" r="2.4"/><circle cx="1662.8" cy="958.8" r="2.4"/><circle cx="1665.6" cy="751.7" r="2.4"/><circle cx="1669.1" cy="728.4" r="2.4"/><circle cx="1671.0" cy="998.1" r="2.4"/><circle cx="1674.2" cy="964.5" r="2.4"/><circle cx="1677.0" cy="964.5" r="2.4"/><circle cx="1678.2" cy="880.6" r="2.4"/><circle cx="1681.0" cy="835.0" r="2.4"/><circle cx="1683.3" cy="989.2" r="2.4"/><circle cx="1685.6" cy="989.2" r="2.4"/><circle cx="1688.4" cy="948.8" r="2.4"/><circle cx="1691.2" cy="978.7" r="2.4"/><circle cx="1694.1" cy="738.3" r="2.4"/><circle cx="1696.1" cy="964.5" r="2.4"/><circle cx="1697.5" cy="964.5" r="2.4"/><circle cx="1699.8" cy="883.4" r="2.4"/><circle cx="1702.6" cy="913.3" r="2.4"/><circle cx="1704.0" cy="883.4" r="2.4"/><circle cx="1706.2" cy="566.9" r="2.4"/><circle cx="1707.5" cy="967.3" r="2.4"/><circle cx="1709.7" cy="756.8" r="2.4"/><circle cx="1711.4" cy="757.4" r="2.4"/><circle cx="1714.0" cy="961.6" r="2.4"/><circle cx="1716.6" cy="747.7" r="2.4"/><circle cx="1718.3" cy="842.2" r="2.4"/><circle cx="1720.3" cy="978.7" r="2.4"/><circle cx="1723.1" cy="981.6" r="2.4"/><circle cx="1723.7" cy="931.8" r="2.4"/><circle cx="1725.9" cy="882.0" r="2.4"/><circle cx="1728.4" cy="567.3" r="2.4"/><circle cx="1730.1" cy="569.7" r="2.4"/><circle cx="1732.2" cy="944.6" r="2.4"/><circle cx="1734.5" cy="913.3" r="2.4"/><circle cx="1737.3" cy="931.8" r="2.4"/><circle cx="1737.9" cy="875.7" r="2.4"/><circle cx="1741" cy="651" r="2.4"/><circle cx="1742.8" cy="720" r="2.4"/><circle cx="1744.4" cy="951.7" r="2.4"/><circle cx="1746.4" cy="728.4" r="2.4"/><circle cx="1748.1" cy="896.2" r="2.4"/><circle cx="1750.1" cy="963.9" r="2.4"/><circle cx="1752.7" cy="729.8" r="2.4"/><circle cx="1754.4" cy="725.5" r="2.4"/><circle cx="1756.4" cy="973.0" r="2.4"/><circle cx="1760.1" cy="958.8" r="2.4"/><circle cx="1762.4" cy="946.0" r="2.4"/><circle cx="1764.5" cy="765.3" r="2.4"/><circle cx="1766.2" cy="766.8" r="2.4"/><circle cx="1768.6" cy="970.2" r="2.4"/><circle cx="1770.9" cy="953.1" r="2.4"/><circle cx="1772.3" cy="964.5" r="2.4"/><circle cx="1774.3" cy="1005.5" r="2.4"/><circle cx="1777.7" cy="798.1" r="2.4"/><circle cx="1780.0" cy="984.4" r="2.4"/><circle cx="1783.4" cy="961.6" r="2.4"/><circle cx="1785.7" cy="1005.5" r="2.4"/><circle cx="1788.0" cy="1004.3" r="2.4"/><circle cx="1790.0" cy="916.1" r="2.4"/><circle cx="1791.9" cy="855.5" r="2.4"/><circle cx="1793.7" cy="973.9" r="2.4"/><circle cx="1797.1" cy="971.6" r="2.4"/><circle cx="1798.5" cy="938.9" r="2.4"/><circle cx="1800.5" cy="869.2" r="2.4"/><circle cx="1803.0" cy="829.4" r="2.4"/><circle cx="1804.8" cy="830.8" r="2.4"/><circle cx="1807.0" cy="952.5" r="2.4"/><circle cx="1808.4" cy="879.1" r="2.4"/><circle cx="1811.3" cy="916.1" r="2.4"/><circle cx="1812.7" cy="802" r="2.4"/><circle cx="1814.5" cy="642" r="2.4"/><circle cx="1816.2" cy="455.5" r="2.4"/><circle cx="1818" cy="744" r="2.4"/><circle cx="1819.7" cy="570" r="2.4"/><circle cx="1821.5" cy="615" r="2.4"/><circle cx="1823.2" cy="496" r="2.4"/></g>
<polyline points="224.4,857.8 226.4,931.8 228.1,876.3 229.8,913.3 231.5,879.1 233.2,896.2 234.9,796.1 237.2,930.3 240.6,1000.0 243.4,887.7 245.7,852.1 247.1,884.8 248.9,812.3 250.6,972.4 253.4,899.1 256.8,913.3 258.5,864.3 260.5,931.8 263.4,932.3 264.8,867.8 267.1,899.1 270.5,890.5 272.2,843.6 274.7,917.5 277.6,906.2 280.4,946.0 283.3,884.8 286.1,859.8 287.5,931.8 290.4,919.0 292.4,921.8 294.7,965.3 296.4,839.3 298.4,770.5 299.8,948.8 302.6,907.6 306.0,884.8 308.3,876.3 310.3,824.5 312.3,963.1 314.6,858.7 316.8,954.5 319.1,864.9 320.8,896.2 322.5,823.7 324.5,933.2 326.5,899.1 328.2,961.6 330.2,971.6 333.1,975.9 335.1,967.3 336.8,998.1 338.2,917.5 340.2,936.0 341.9,924.7 343.0,961.6 344.4,823.7 346.4,758.2 348.7,957.4 351.6,937.5 353.8,967.3 355.5,997.2 357.2,859.8 359.2,779.6 360.7,985.8 362.4,985.8 364.4,955.9 367.2,938.9 370.0,874.0 372.3,997.2 374.3,995.8 377.2,921.8 378.6,971.6 380.6,701.3 383.4,826.5 385.1,997.2 388.5,994.4 390.0,951.7 391.9,931.8 394.5,781.8 397.6,999.2 400.5,970.2 403.3,971.6 404.2,948.8 406.5,839.9 410.7,988.7 414.1,967.3 415.0,970.2 417.3,973.0 418.4,880.6 420.1,876.3 422.1,978.7 424.4,991.5 426.4,975.9 427.8,957.4 430.6,849.8 434.3,984.4 435.5,947.4 437.2,975.9 439.2,947.4 441.2,981.6 442.9,920.4 444.6,912.7 446.3,987.2 449.1,968.8 452.0,977.3 454.0,896.2 457.1,837.9 458.5,991.5 460.5,991.5 461.9,963.1 463.9,988.7 465.6,964.5 467.6,879.1 469.1,835.9 470.5,997.2 472.8,1002.9 475.3,1000.0 478.2,992.9 479.3,931.8 481.9,875.7 483.3,1002.9 485.3,971.6 487.5,994.4 488.4,971.6 489.8,992.9 492.7,933.2 494.4,938.9 496.6,1004.3 498.9,988.7 502.6,987.2 504.6,992.9 506.3,967.3 508.3,992.9 510.3,988.7 513.1,997.2 515.8,948.8 517.6,941.7 520.3,994.4 523.1,990.1 524.5,1004.3 527.4,995.8 529.6,921.8 532.2,938.9 534.3,836 536.1,709 537.9,735 539.6,656 541.4,650 543.1,703 544.9,661 546.6,768 548.4,987 550.1,990.1 552.1,1004.3 552.7,907.6 554.4,909.0 556.4,1004.3 558.7,997.2 560.7,1005.5 563.5,1002.9 566.1,937.5 570.0,1002.9 575.7,1002.9 578.3,884.8 581.4,992.9 585.7,992.9 588.0,995.8 590.0,1004.3 594.2,1004.3 596.5,995.8 599.3,988.7 600.5,971.6 602.8,849.8 606.2,1000.0 608.4,951.7 610.7,947.4 612.7,953.1 613.9,847.8 615.0,847.8 617.3,1001.5 618.4,1004.3 621.3,978.7 623.5,965.9 626.9,767.6 628.7,770.5 630.6,998.6 632.9,961.6 634.6,963.1 636.3,1002.9 637.8,1002.9 638.7,876.3 640.5,879.1 642.0,1005.5 644.9,992.9 647.7,949.7 649.7,968.8 651.4,951.7 652.3,885.4 654.0,887.7 654.8,992.9 657.7,991.5 659.7,974.4 661.9,987.2 663.9,928.1 666.8,1002.9 669.1,985.8 671.9,1004.3 674.7,1002.9 676.2,813.1 677.9,813.7 679.3,997.2 681.9,974.4 686.1,941.7 688.1,832.2 689.5,833.6 691.2,1000.0 693.2,997.2 695.5,984.4 697.5,987.2 698.4,957.4 700.1,847.8 702.3,810.0 703.8,984.4 706.0,977.3 708.3,957.4 710.9,978.7 712.6,855.5 716.0,987.2 718.0,974.4 720.8,994.4 722.5,990.1 724.5,917.5 728.2,991.5 730.2,964.5 731.6,926.1 733.9,783.8 735.9,746.0 738.8,727.8 739.6,813.7 742.2,1000.0 743.9,960.2 745.9,916.1 748.7,961.6 750.7,907.6 752.4,1001.5 754.6,1001.5 756.4,586 758.1,996 760.7,911.9 762.9,983.0 765.2,984.4 767.0,958.8 768.7,259 770.5,956 773.2,924.7 774.9,987.2 777.2,975.9 778.6,992.9 780.9,992.9 782.3,953.1 784.8,961.6 785.4,833.6 788.0,813.7 790.0,994.4 791.9,998.6 793.7,957.4 795.9,927.5 797.6,906.2 800.2,842.2 802.2,995.8 804.2,994.4 806.2,906.2 809.0,923.2 810.2,849.8 812.1,827.9 813.9,975.9 815.0,953.1 816.4,975.9 819.3,978.1 820.1,950.3 822.4,861.5 824.1,866.3 826.4,965.9 828.4,921.8 830.6,961.6 832.6,936.0 834.9,905.6 837.8,967.3 840.6,964.5 842.3,974.4 844.9,961.6 845.7,948.8 846.9,970.2 848.6,937.5 850.6,967.3 852.6,978.1 854.3,937.5 856.2,958.8 858.5,889.9 860.2,891.9 862.8,979.6 865.6,891.9 867.6,882.0 869.9,835.9 871.9,893.4 874.7,933.2 878.2,863.5 881.0,921.8 882.7,983.8 886.1,906.2 888.4,887.7 890.4,863.5 892.4,896.2 894.7,933.2 896.4,843.6 898.4,917.5 900.3,884.8 901.8,916.1 903.8,896.2 904.6,971.6 906.6,916.1 908.9,930.3 910.3,853.0 912.3,965.9 914.6,948.8 916.6,833.6 918.3,850.7 920.3,951.7 922.2,789.5 924.5,893.4 926.5,933.2 928.3,884.8 930.1,879.1 932.2,937.5 934.5,717.6 936.5,978.1 938.3,879.1 940.1,874.9 942.4,936.0 944.4,823.7 946.7,783.8 948.1,947.4 950.1,948.8 952.1,957.4 953.8,876.3 956.4,825.9 958.7,884.8 960.7,960.2 962.9,907.6 965.8,937.5 968.6,837.9 970.9,862.1 972.9,999.5 974.9,955.9 976.6,914.7 979.4,961.6 981.7,884.8 983.4,884.8 985.1,997.2 987.1,964.5 990.0,953.1 991.9,913.3 993.7,833.6 995.9,784.7 997.1,970.2 999.3,988.1 1001.3,961.6 1003.6,937.5 1006.2,746 1008.0,643.4 1010.7,987.2 1014.1,967.3 1015.0,967.3 1017.8,853.5 1020.1,862.1 1022.1,997.2 1024.1,965.9 1026.4,992.9 1028.4,939.4 1030.6,964.5 1032.1,869.2 1034.3,987.2 1037.8,998.6 1040.0,957.4 1042.0,791.8 1044.3,711.9 1046.3,961.6 1049.7,994.4 1052.0,953.1 1054.0,859.8 1056.8,760.2 1058.2,985.8 1060.5,948.8 1063.9,953.1 1067.9,835.9 1069.6,631.5 1071.3,947.4 1073.3,985.8 1075.3,973.0 1078.2,978.7 1079.0,907.6 1081.3,883.4 1083.3,992.9 1086.0,964.5 1087.7,967.3 1091.8,1002.9 1094.7,1005.5 1097.5,978.7 1099.8,961.6 1101.8,980.1 1104.0,791.8 1106.0,879.1 1108.3,998.1 1111.2,964.5 1114.0,973.0 1115.1,839.3 1118.3,813.7 1120.3,988.7 1123.1,987.2 1125.4,965.9 1127.4,933.2 1130.2,916.1 1132.2,994.4 1134.5,998.1 1135.9,964.5 1137.9,985.8 1139.6,925.2 1142.4,865.5 1144.4,1000.0 1148.1,971.6 1150.1,988.7 1153.0,1004.3 1154.4,941.7 1156.7,997.2 1158.7,964.5 1160.7,955.9 1162.4,971.6 1163.8,921.8 1166.3,907.6 1168.6,937.5 1170.9,906.2 1174.0,781.6 1176.6,717.6 1178.6,738.3 1179.5,576 1181.2,669 1183.0,475.6 1186.5,847.8 1188.5,864.9 1190.8,884.8 1192.8,1002.9 1194.8,984.4 1198.5,984.4 1199.9,944.6 1202.2,847.8 1204.2,864.9 1206.2,998.6 1209.9,984.4 1211.9,940.3 1214.1,930.3 1215.0,930.3 1217.0,929.8 1218.4,995.8 1220.7,967.3 1223.0,985.8 1224.1,947.4 1226.4,845.0 1230.6,973.0 1234.3,1004.3 1236.3,961.6 1238.3,824.5 1240.0,826.5 1242.0,998.1 1244.9,992.9 1247.7,948.8 1249.7,983.0 1250.8,849.8 1252.8,810.0 1254.3,1002.9 1257.7,1004.3 1260.5,978.7 1262.8,839.9 1265.6,852.1 1266.8,987.2 1270.5,1004.3 1273.9,1002.9 1275.6,880.0 1279.0,992.9 1281.0,998.1 1283.3,971.6 1285.6,1004.3 1287.5,907.6 1289.8,875.7 1291.8,1002.9 1294.7,995.8 1296.9,964.5 1299.8,987.2 1302.1,853.5 1304.0,997.2 1307.5,957.4 1310.3,943.1 1311.7,883.4 1314.6,802.3 1316.0,964.5 1318.0,975.9 1319.4,923.8 1321.7,965.9 1324.0,981.6 1325.9,955.4 1328.2,978.7 1330.2,958.8 1331.6,973.0 1333.9,944.6 1336.8,906.2 1340.2,955.9 1342.2,987.2 1344.4,944.6 1347.3,947.4 1348.1,891.9 1350.7,852.1 1353.0,948.8 1355.8,921.8 1358.1,840.2 1360.1,847.8 1362.9,812.3 1364.9,926.1 1366.6,978.7 1370.0,889.1 1371.5,907.6 1372.9,763.9 1376.6,951.7 1379.4,924.7 1382.3,877.7 1384.8,916.1 1386.0,762.5 1388.0,754.0 1389.1,933.2 1391.9,927.5 1392.8,963.9 1395.6,835.9 1398.5,813.7 1400.5,965.9 1403.3,946.0 1406.2,911.9 1408.3,651.6 1411.3,829.4 1413.6,984.4 1415.0,985.8 1417.3,987.2 1418.4,964.5 1420.1,981.6 1421.5,802.3 1424.4,719.8 1426.4,946.0 1429.2,924.7 1431.5,907.6 1432.6,880.0 1434.3,907.6 1436.3,859.2 1438.3,1002.9 1440.6,985.8 1442.3,879.1 1444.0,985.8 1446.4,754.0 1448.2,754.5 1450.6,971.6 1453.4,931.8 1456.2,953.1 1457.7,954.5 1458.8,789.5 1460.5,790.9 1461.9,977.3 1466.2,1001.5 1468.5,785.3 1470.5,757.4 1471.9,759.1 1474.7,999.5 1476.2,964.5 1478.2,937.5 1480.4,967.3 1482.4,905.6 1484.1,960.2 1487.5,931.8 1490.4,896.2 1492.4,963.9 1494.7,825.9 1498.1,789.5 1499.8,994.4 1501.6,859.2 1503.4,859.2 1505.5,937.5 1507.5,758.2 1510.3,733.5 1512.3,843.6 1514.6,859.2 1518.0,869.2 1520.3,973.0 1522.5,717.0 1524.0,867.8 1525.9,829.4 1528.2,971.6 1530.2,970.2 1531.6,913.3 1532.5,965.9 1534.5,833.6 1537.9,921.8 1539.6,800.3 1542.4,896.2 1544.4,827.9 1546.1,819.4 1548.7,839.3 1550.7,917.5 1552.4,835.0 1554.4,882.0 1556.4,800.3 1558.1,801.8 1560.1,882.0 1561.8,1001.5 1564.1,714.1 1565.8,785.3 1568.6,856.4 1570.9,785.8 1572.0,876.3 1574.3,891.9 1576.6,874.9 1578.6,919.8 1580.0,876.3 1582.0,785.8 1584.3,890.5 1586.5,967.3 1588.5,876.3 1590.5,819.4 1592.8,891.9 1594.8,835.9 1597.1,896.2 1599.3,832.2 1601.3,901.9 1604.2,873.4 1606.2,930.3 1608.4,944.6 1610.7,989.2 1613.3,911.9 1615.0,907.6 1618.4,773.3 1622.1,965.9 1624.1,903.3 1626.4,967.3 1627.8,869.2 1630.6,688.0 1634.3,971.6 1637.2,909.0 1639.2,981.6 1641.2,799.5 1644.3,785.8 1646.3,947.4 1649.1,938.9 1650.6,970.2 1652.0,924.7 1652.8,987.2 1654.3,829.4 1656.8,733.5 1658.2,985.8 1660.5,987.2 1662.8,958.8 1665.6,751.7 1669.1,728.4 1671.0,998.1 1674.2,964.5 1677.0,964.5 1678.2,880.6 1681.0,835.0 1683.3,989.2 1685.6,989.2 1688.4,948.8 1691.2,978.7 1694.1,738.3 1696.1,964.5 1697.5,964.5 1699.8,883.4 1702.6,913.3 1704.0,883.4 1706.2,566.9 1707.5,967.3 1709.7,756.8 1711.4,757.4 1714.0,961.6 1716.6,747.7 1718.3,842.2 1720.3,978.7 1723.1,981.6 1723.7,931.8 1725.9,882.0 1728.4,567.3 1730.1,569.7 1732.2,944.6 1734.5,913.3 1737.3,931.8 1737.9,875.7 1741,651 1742.8,720 1744.4,951.7 1746.4,728.4 1748.1,896.2 1750.1,963.9 1752.7,729.8 1754.4,725.5 1756.4,973.0 1760.1,958.8 1762.4,946.0 1764.5,765.3 1766.2,766.8 1768.6,970.2 1770.9,953.1 1772.3,964.5 1774.3,1005.5 1777.7,798.1 1780.0,984.4 1783.4,961.6 1785.7,1005.5 1788.0,1004.3 1790.0,916.1 1791.9,855.5 1793.7,973.9 1797.1,971.6 1798.5,938.9 1800.5,869.2 1803.0,829.4 1804.8,830.8 1807.0,952.5 1808.4,879.1 1811.3,916.1 1812.7,802 1814.5,642 1816.2,455.5 1818,744 1819.7,570 1821.5,615 1823.2,496" fill="none" stroke="#2a86d0" stroke-width="4" stroke-linejoin="round" stroke-linecap="round"/>
<path d="M862 1106H894" stroke="#2a86d0" stroke-width="4"/>
</svg>
</body></html>
